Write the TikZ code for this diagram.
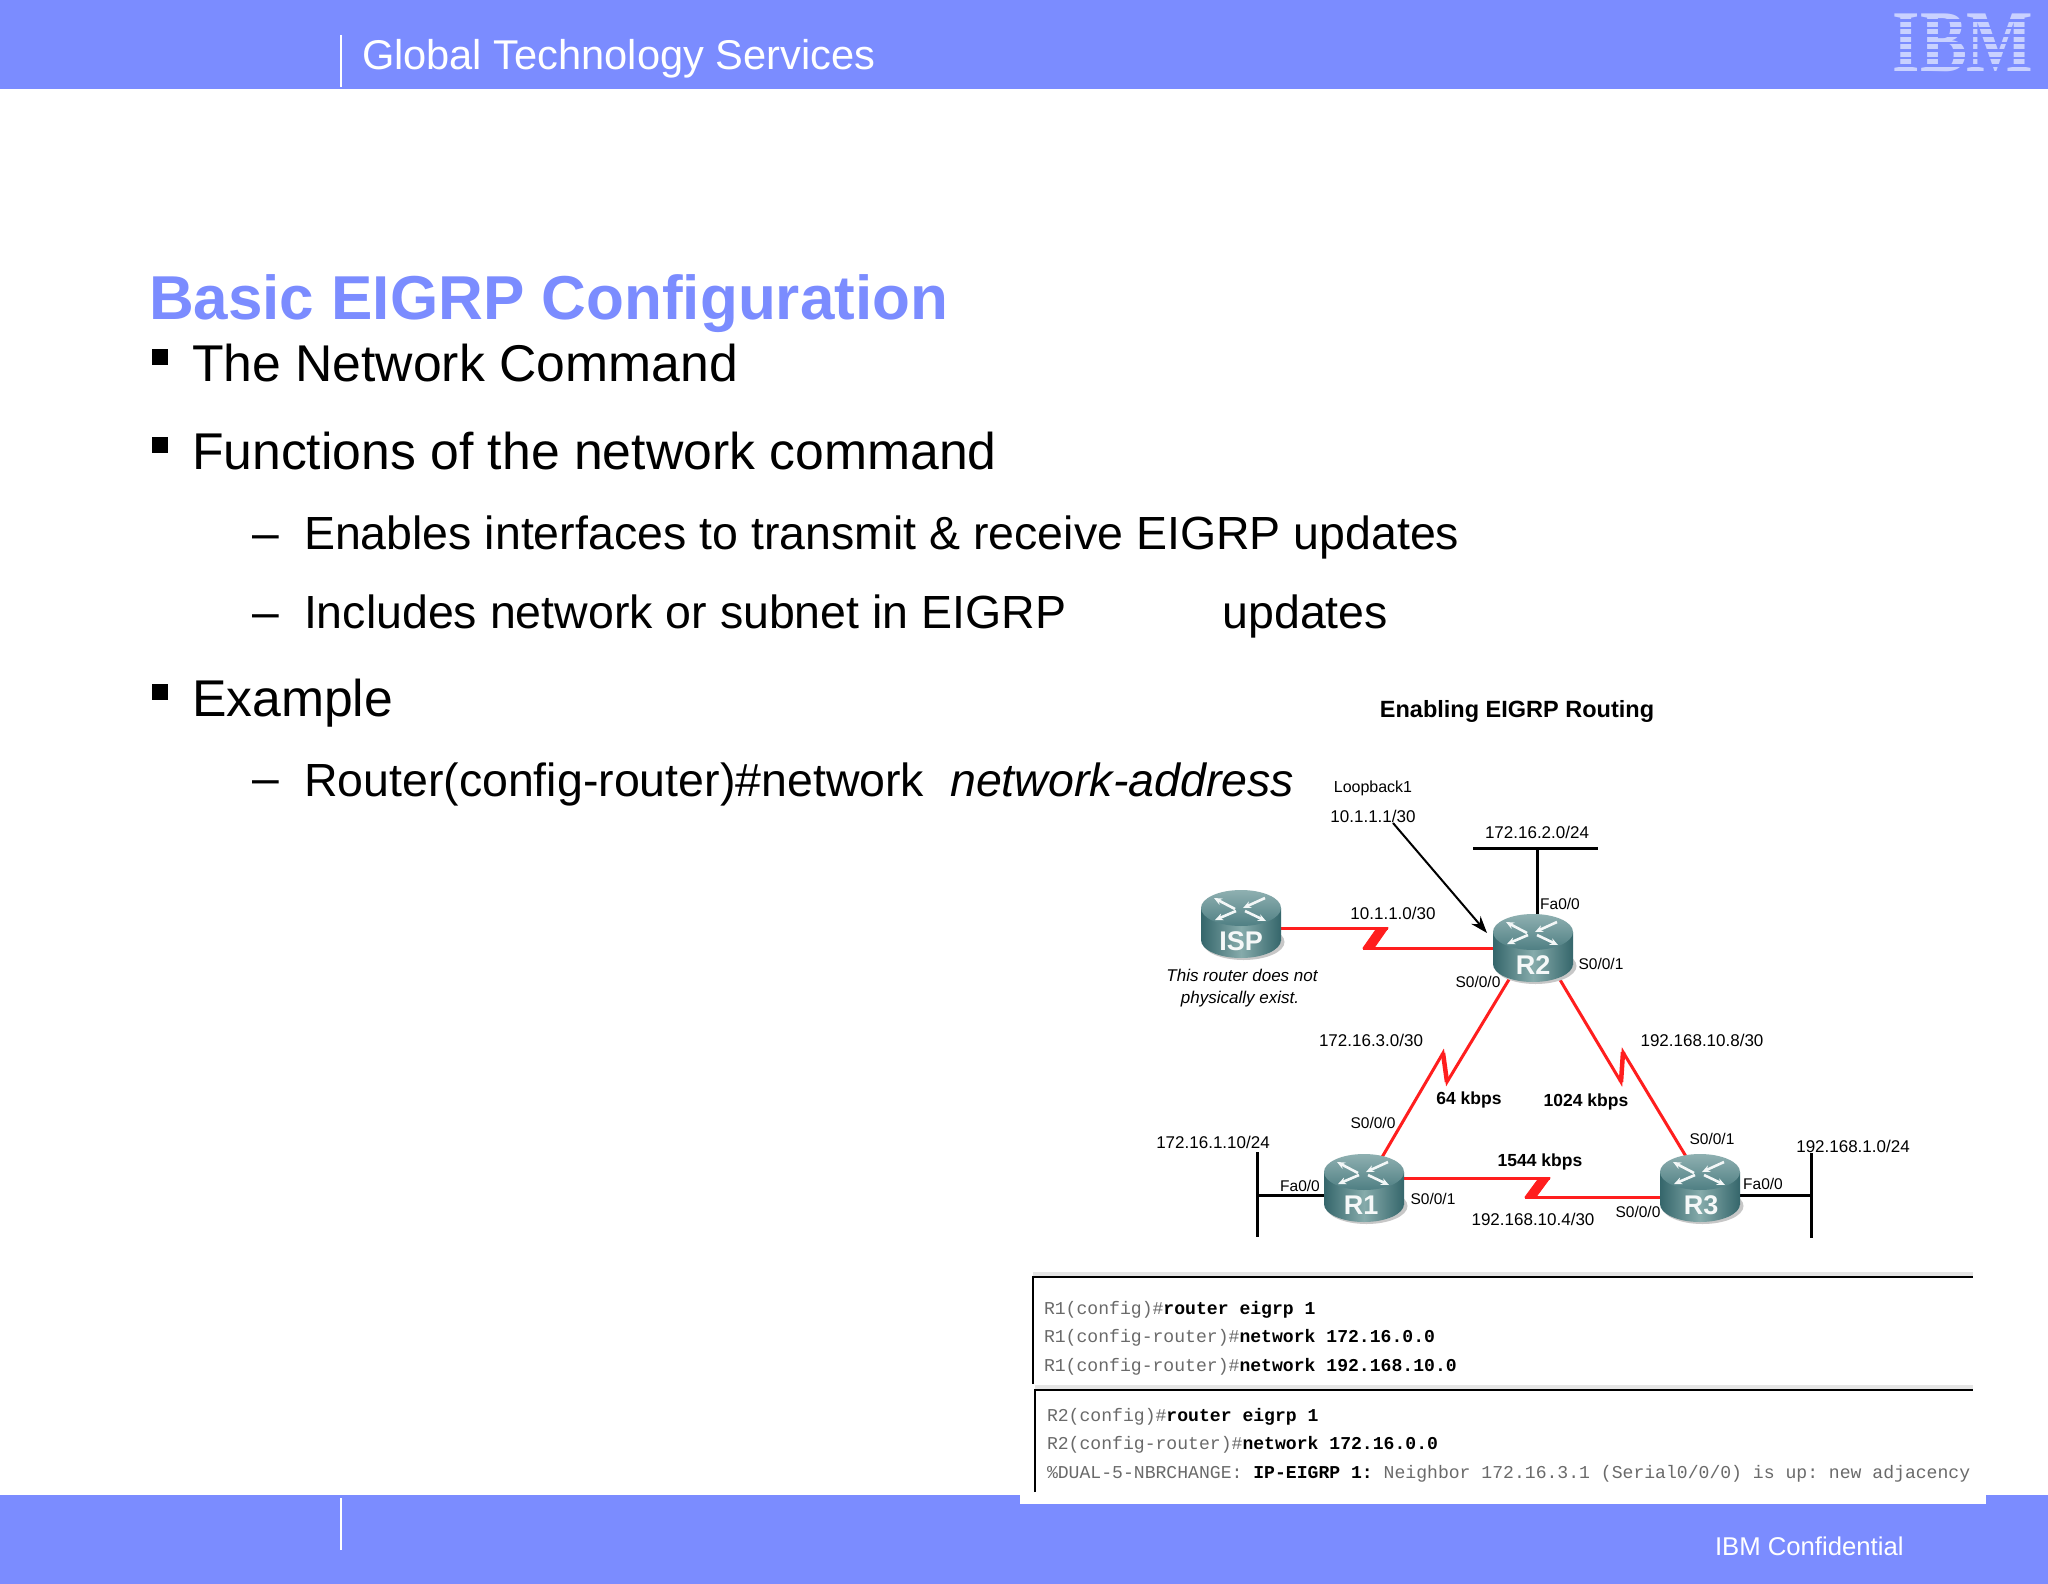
\documentclass[tikz,border=0pt]{standalone}
\usepackage{fontspec}
\setmainfont{Liberation Sans}
\newfontfamily\serifbold[BoldFont={Liberation Serif Bold}]{Liberation Serif}
\setmonofont{Liberation Mono}
\usetikzlibrary{arrows.meta,backgrounds,shapes.geometric}
\definecolor{band}{HTML}{7B8CFF}
\definecolor{logoc}{HTML}{C9D1FF}
\definecolor{linkred}{HTML}{FF1E1E}
\definecolor{cmdgrey}{HTML}{6A6A6A}
\definecolor{rdark}{HTML}{35666B}
\definecolor{rmid}{HTML}{86ABAB}
\definecolor{rtop}{HTML}{8FB0B1}
\definecolor{rtopd}{HTML}{4F7F83}
\newcommand\pxs[1]{\fontsize{#1}{#1}\selectfont}
\tikzset{
  x=1pt,y=-1pt,
  bandrect/.style={fill=band,draw=none},
  sepline/.style={draw=white,line width=1.6pt},
  txt/.style={anchor=base west,inner sep=0pt,outer sep=0pt},
  titletext/.style={txt,text=band,font=\pxs{62}\bfseries},
  lvlone/.style={txt,font=\pxs{51.7}},
  lvltwo/.style={txt,font=\pxs{46.5}},
  bulletbox/.style={fill=black,draw=none,minimum size=16pt,inner sep=0pt},
  netlabel/.style={inner sep=0pt,font=\pxs{17}},
  speedlabel/.style={inner sep=0pt,font=\pxs{17.5}\bfseries},
  notelabel/.style={inner sep=0pt,font=\pxs{17}\itshape},
  cmd/.style={txt,font=\pxs{18.1}\ttfamily,text=cmdgrey},
  routerhit/.style={inner sep=0pt,minimum width=80pt,minimum height=68pt},
  routername/.style={inner sep=0pt,text=white!92!rmid,font=\pxs{27}\bfseries},
  serial/.style={draw=linkred,line width=3pt,line join=miter},
  serialzig/.style={fill=linkred,draw=linkred,line width=.8pt,line join=miter},
  serialpeak/.style={draw=linkred,line width=4.5pt,line cap=butt},
  lan/.style={draw=black,line width=3pt},
  boxline/.style={draw=black,line width=2.2pt},
  boxhalo/.style={draw=black!10,line width=4pt},
  xarrow/.style={draw=white!90!rmid,line width=2.6pt,-{Stealth[length=8pt,width=7pt]}},
}
\newcommand\routerart[2]{%
  \begin{scope}[shift={(#1,#2)}]
    \fill[black!22] (2.5,18) ellipse [x radius=41,y radius=18];
    \shade[left color=rdark,right color=rdark,middle color=rmid] (0,16) ellipse [x radius=40,y radius=18];
    \shade[left color=rdark,right color=rdark,middle color=rmid,shading angle=90] (-40,-16) rectangle (40,16);
    \shade[top color=rtop,bottom color=rtopd] (0,-16) ellipse [x radius=40,y radius=18];
    \draw[xarrow] (-6,-15) -- (-27,-26);
    \draw[xarrow] (4,-13) -- (25,-3);
    \draw[xarrow] (24,-26) -- (2,-16);
    \draw[xarrow] (-5,-13) -- (-26,-4);
  \end{scope}}
\begin{document}
\begin{tikzpicture}
\useasboundingbox (0,0) rectangle (2048,1584);
% header and footer
\path[bandrect] (0,0) rectangle (2048,89);
\path[bandrect] (0,1495) rectangle (2048,1584);
\draw[sepline] (341,35) -- (341,87);
\draw[sepline] (341,1498) -- (341,1550);
\node[txt,text=white,font=\pxs{41.6}] (hdr) at (362,70) {Global Technology Services};
\node[txt,text=white,font=\pxs{25.7}] (ftr) at (1715,1555) {IBM Confidential};
% logo
\node[anchor=center,inner sep=0pt,text=logoc,font=\serifbold\pxs{88}\bfseries,xscale=.8,transform shape] (logo) at (1963,43) {IBM};
\foreach \yy in {20.5,28,35.5,43,50.5,58,65.5}{\draw[band,line width=2.4pt] (1885,\yy) -- (2040,\yy);}
% body text
\node[titletext] (title) at (149,319) {Basic EIGRP Configuration};
\node[bulletbox] (b1) at (160,357) {};
\node[lvlone] (t1) at (192,381) {The Network Command};
\node[bulletbox] (b2) at (160,445) {};
\node[lvlone] (t2) at (192,469) {Functions of the network command};
\node[txt,font=\pxs{48}] (d1) at (252,549) {–};
\node[lvltwo] (t3) at (304,549) {Enables interfaces to transmit \& receive EIGRP updates};
\node[txt,font=\pxs{48}] (d2) at (252,628) {–};
\node[lvltwo] (t4) at (304,628.5) {Includes network or subnet in EIGRP\hspace*{156pt}updates};
\node[bulletbox] (b3) at (160,692) {};
\node[lvlone] (t5) at (192,716) {Example};
\node[txt,font=\pxs{48}] (d3) at (252,794) {–};
\node[lvltwo] (t6) at (304,796) {Router(config-router)\#network\hspace*{26pt}\textit{network-address}};
% diagram title
\node[inner sep=0pt,font=\pxs{23.5}\bfseries] (dtitle) at (1517,711) {Enabling EIGRP Routing};
% routers
\routerart{1241}{924}
\routerart{1533}{948}
\routerart{1364}{1188}
\routerart{1700}{1188}
\node[routerhit] (isp) at (1241,924) {};
\node[routerhit] (r2) at (1533,948) {};
\node[routerhit] (r1) at (1364,1188) {};
\node[routerhit] (r3) at (1700,1188) {};
\node[routername] (ispname) at (1241,941) {ISP};
\node[routername] (r2name) at (1533,965) {R2};
\node[routername] (r1name) at (1361,1205) {R1};
\node[routername] (r3name) at (1701,1205) {R3};
% connector coordinates
\coordinate (z1a) at (1388,928);
\coordinate (z1b) at (1363,948);
\coordinate (z1c) at (1377,928);
\coordinate (z1d) at (1374,948);
\coordinate (z2a) at (1447,1082);
\coordinate (z2b) at (1443,1053);
\coordinate (z3a) at (1621,1082);
\coordinate (z3b) at (1623,1052);
\coordinate (z4a) at (1550,1178);
\coordinate (z4b) at (1525,1197);
\coordinate (z4c) at (1539,1178);
\coordinate (z4d) at (1536,1197);
\coordinate (b2l) at (1473,848);
\coordinate (b2r) at (1598,848);
\coordinate (b2m) at (1537,848);
\coordinate (b1t) at (1257,1152);
\coordinate (b1b) at (1257,1237);
\coordinate (b1m) at (1257,1195);
\coordinate (b3t) at (1811,1153);
\coordinate (b3b) at (1811,1238);
\coordinate (b3m) at (1811,1195);
\coordinate (loopfrom) at (1393,823);
\coordinate (loopto) at (1487,933);
\begin{scope}[on background layer]
  \fill[white] (0,0) rectangle (2048,1584);
  \path[bandrect] (0,0) rectangle (2048,89);
  \draw[serial] ([yshift=-4pt]isp.center) -- (z1a);
  \draw[serial] (z1b) -- (r2.center);
  \path[serialzig] (z1a) -- (z1c) -- (z1b) -- (z1d) -- cycle;
  \draw[serial] ([xshift=-5pt]r2.center) -- (z2a) -- (z2b) -- (r1.center);
  \draw[serialpeak] (z2a) -- (z2b);
  \draw[serial] ([xshift=8pt]r2.center) -- (z3a) -- (z3b) -- ([xshift=5pt]r3.center);
  \draw[serialpeak] (z3a) -- (z3b);
  \draw[serial] ([yshift=10pt]r1.center) -- (z4a);
  \draw[serial] (z4b) -- ([yshift=-9pt]r3.center);
  \path[serialzig] (z4a) -- (z4c) -- (z4b) -- (z4d) -- cycle;
  \draw[lan] (b2l) -- (b2r);
  \draw[lan] (b2m) -- (b2m |- r2.north);
  \draw[lan] (b1t) -- (b1b);
  \draw[lan] (b1m) -- (r1.center |- b1m);
  \draw[lan] (b3t) -- (b3b);
  \draw[lan] (b3m) -- (r3.center |- b3m);
\end{scope}
\draw[black,line width=2pt,-{Stealth[length=17pt,width=12pt]}] (loopfrom) -- (loopto);
% network labels
\node[netlabel,font=\pxs{16}] (l1) at (1373,788) {Loopback1};
\node[netlabel] (l2) at (1373,816) {10.1.1.1/30};
\node[netlabel] (l3) at (1537,832) {172.16.2.0/24};
\node[netlabel,font=\pxs{15.5}] (l4) at (1560,904) {Fa0/0};
\node[netlabel] (l5) at (1393,913) {10.1.1.0/30};
\node[netlabel,font=\pxs{15.5}] (l6) at (1601,964) {S0/0/1};
\node[netlabel,font=\pxs{15.5}] (l7) at (1478,982) {S0/0/0};
\node[notelabel] (n1) at (1242,975) {This router does not};
\node[notelabel] (n2) at (1240,999) {physically exist.};
\node[netlabel] (l8) at (1371,1040) {172.16.3.0/30};
\node[speedlabel] (s1) at (1469,1100) {64 kbps};
\node[speedlabel] (s2) at (1586,1102) {1024 kbps};
\node[speedlabel] (s3) at (1540,1162) {1544 kbps};
\node[netlabel,font=\pxs{15.5}] (l9) at (1373,1123) {S0/0/0};
\node[netlabel] (l10) at (1213,1142) {172.16.1.10/24};
\node[netlabel,font=\pxs{15.5}] (l11) at (1300,1186) {Fa0/0};
\node[netlabel,font=\pxs{15.5}] (l12) at (1433,1199) {S0/0/1};
\node[netlabel] (l13) at (1533,1219) {192.168.10.4/30};
\node[netlabel,font=\pxs{15.5}] (l14) at (1638,1212) {S0/0/0};
\node[netlabel,font=\pxs{15.5}] (l15) at (1712,1139) {S0/0/1};
\node[netlabel] (l16) at (1853,1146) {192.168.1.0/24};
\node[netlabel,font=\pxs{15.5}] (l17) at (1763,1184) {Fa0/0};
\node[netlabel] (l18) at (1702,1040) {192.168.10.8/30};
% command panel
\fill[white] (1020,1270) rectangle (1986,1504);
\draw[boxhalo] (1033,1274) -- (1973,1274);
\draw[boxhalo] (1035,1387) -- (1973,1387);
\draw[boxline] (1033,1384) -- (1033,1277) -- (1973,1277);
\draw[boxline] (1035,1492) -- (1035,1390) -- (1973,1390);
\node[cmd] (c1) at (1044,1314) {R1(config)\#\textbf{\textcolor{black}{router eigrp 1}}};
\node[cmd] (c2) at (1044,1342) {R1(config-router)\#\textbf{\textcolor{black}{network 172.16.0.0}}};
\node[cmd] (c3) at (1044,1371) {R1(config-router)\#\textbf{\textcolor{black}{network 192.168.10.0}}};
\node[cmd] (c4) at (1047,1421) {R2(config)\#\textbf{\textcolor{black}{router eigrp 1}}};
\node[cmd] (c5) at (1047,1449) {R2(config-router)\#\textbf{\textcolor{black}{network 172.16.0.0}}};
\node[cmd] (c6) at (1047,1478) {\%DUAL-5-NBRCHANGE: \textbf{\textcolor{black}{IP-EIGRP 1:}} Neighbor 172.16.3.1 (Serial0/0/0) is up: new adjacency};
\end{tikzpicture}
\end{document}
